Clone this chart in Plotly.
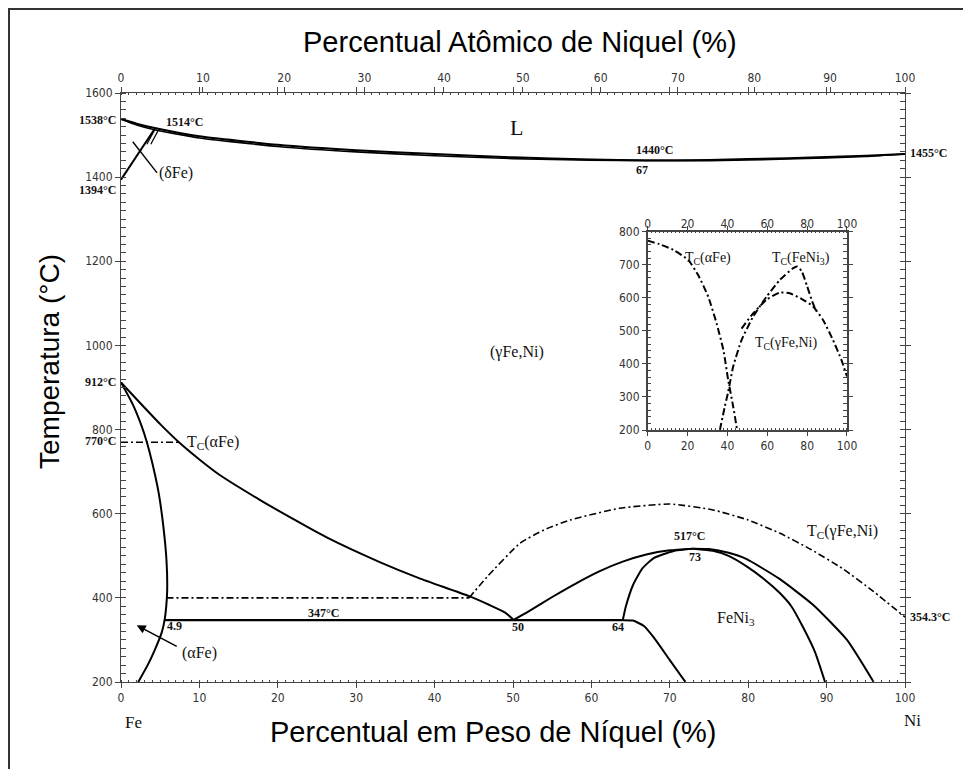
import plotly.graph_objects as go

# ---------------- main diagram data (wt.% Ni, °C) ----------------
liq_w = [0, 2, 4, 10, 20, 30, 40, 50, 60, 67, 75, 85, 95, 100]
liq_T = [1538, 1527, 1518, 1497, 1477, 1464, 1455, 1447, 1442, 1440, 1441, 1445, 1451, 1455]
sol_T = [1538, 1524, 1514, 1493, 1473, 1460, 1451, 1444, 1440, 1439, 1439, 1443, 1449, 1455]

gd_w = [0, 4.2]
gd_T = [1394, 1512]
pd1_w = [3.3, 4.3]
pd1_T = [1478, 1513]
pd2_w = [3.8, 4.8]
pd2_T = [1478, 1513]
dptr_w = [1.5, 4.6]
dptr_T = [1484, 1410]

a_w = [0, 1.5, 2.6, 3.3, 4.0, 4.8, 5.4, 5.8, 5.9, 5.85, 5.6, 5.2, 4.3, 3.4, 2.2]
a_T = [912, 860, 810, 770, 720, 650, 570, 490, 430, 400, 352, 318, 276, 240, 200]

g_w = [0, 2.5, 5, 7.5, 10, 12.6, 17.7, 22, 26.3, 33, 38, 44.4, 47, 49, 50]
g_T = [912, 862, 813, 768, 729, 692, 633, 587, 543, 485, 447, 404, 383, 365, 349]

eut_w = [5.6, 64]
eut_T = [347, 347]

b1_w = [50, 52, 55, 58, 61, 64, 67, 70, 73]
b1_T = [347, 368, 402, 434, 463, 486, 503, 513, 517]

b2_w = [64, 64.4, 65.3, 66.5, 68, 70.4, 73]
b2_T = [347, 380, 430, 470, 495, 511, 517]

b3_w = [64, 65.3, 66.7, 67.9, 70, 72]
b3_T = [347, 346, 333, 307, 252, 200]

b4_w = [73, 75.5, 77.5, 79.8, 82, 84, 85.5, 87, 88.5, 89.8]
b4_T = [517, 512, 500, 475, 445, 412, 380, 330, 272, 200]

b5_w = [73, 75, 77.5, 79.8, 84, 88.3, 92.6, 96]
b5_T = [517, 516, 507, 492, 445, 383, 300, 200]

tca_w = [0, 7.5]
tca_T = [770, 770]

h400_w = [5.8, 44.4]
h400_T = [400, 400]

tcg_w = [44.4, 46.7, 50.9, 54, 57.3, 63.6, 70, 75.5, 80, 84, 88, 92, 96, 100]
tcg_T = [400, 450, 530, 562, 585, 613, 623, 609, 585, 554, 515, 470, 415, 354.3]

# ---------------- inset data (at.% Ni, °C) ----------------
in_a_x = [0, 6, 12.9, 20.4, 25.4, 30.4, 34.6, 38, 40.4, 42.9, 44.9]
in_a_T = [773, 762, 745, 714, 668, 603, 522, 442, 351, 271, 200]

in_f_x = [36.2, 38.7, 40.4, 42.9, 47.1, 52.9, 59.6, 66.3, 73, 75, 77.3, 80, 82.5, 84.5]
in_f_T = [200, 271, 316, 392, 472, 543, 603, 654, 690, 695, 680, 635, 590, 560]

in_g_x = [47.1, 52.9, 59.6, 66.3, 71.3, 78, 83, 88, 93, 97.2, 100]
in_g_T = [507, 553, 594, 616, 614, 594, 574, 533, 472, 412, 362]

# tick labels
top_at_labels = [0, 10, 20, 30, 40, 50, 60, 70, 80, 90, 100]
main_x_ticks = [0, 10, 20, 30, 40, 50, 60, 70, 80, 90, 100]
main_y_ticks = [200, 400, 600, 800, 1000, 1200, 1400, 1600]
inset_x_ticks = [0, 20, 40, 60, 80, 100]
inset_y_ticks = [200, 300, 400, 500, 600, 700, 800]

# atomic -> weight percent positions for the top axis
M_NI, M_FE = 58.69, 55.845
top_pos = [100 * a * M_NI / (a * M_NI + (100 - a) * M_FE) for a in top_at_labels]

fig = go.Figure()

def solid(x, y, w=2.0, xa="x", ya="y"):
    fig.add_trace(go.Scatter(x=x, y=y, mode="lines", xaxis=xa, yaxis=ya,
                             line=dict(color="black", width=w, shape="spline", smoothing=0.5),
                             hoverinfo="skip", showlegend=False))

def dashdot(x, y, w=1.6, xa="x", ya="y"):
    fig.add_trace(go.Scatter(x=x, y=y, mode="lines", xaxis=xa, yaxis=ya,
                             line=dict(color="black", width=w, dash="7px,3px,2px,3px",
                                       shape="spline", smoothing=0.5),
                             hoverinfo="skip", showlegend=False))

solid(liq_w, liq_T, 2.0)
solid(liq_w, sol_T, 1.6)
solid(gd_w, gd_T, 2.0)
solid(pd1_w, pd1_T, 1.2)
solid(pd2_w, pd2_T, 1.2)
solid(dptr_w, dptr_T, 1.4)
solid(a_w, a_T, 2.0)
solid(g_w, g_T, 2.0)
solid(eut_w, eut_T, 2.4)
solid(b1_w, b1_T, 2.0)
solid(b2_w, b2_T, 2.0)
solid(b3_w, b3_T, 2.0)
solid(b4_w, b4_T, 2.0)
solid(b5_w, b5_T, 2.0)
dashdot(tca_w, tca_T)
dashdot(h400_w, h400_T)
dashdot(tcg_w, tcg_T)

dashdot(in_a_x, in_a_T, 2.0, "x3", "y3")
dashdot(in_f_x, in_f_T, 2.0, "x3", "y3")
dashdot(in_g_x, in_g_T, 2.0, "x3", "y3")

# dummy traces so the top axes are drawn
fig.add_trace(go.Scatter(x=[0, 100], y=[None, None], xaxis="x2", yaxis="y",
                         mode="lines", showlegend=False, hoverinfo="skip"))
fig.add_trace(go.Scatter(x=[0, 100], y=[None, None], xaxis="x4", yaxis="y3",
                         mode="lines", showlegend=False, hoverinfo="skip"))

TICKF = dict(family="Liberation Sans Narrow, DejaVu Sans Condensed, Liberation Sans, sans-serif",
             size=12, color="#333")
AXC = "#444"

fig.update_layout(
    width=963, height=761,
    margin=dict(l=113, r=66, t=85, b=87),
    paper_bgcolor="white", plot_bgcolor="white",
    showlegend=False,
    xaxis=dict(range=[0, 100], tickvals=main_x_ticks, ticks="outside", ticklen=5,
               tickcolor=AXC, showline=True, linecolor=AXC, linewidth=1, mirror="allticks",
               showgrid=False, zeroline=False, tickfont=TICKF,
               minor=dict(dtick=1, ticks="inside", ticklen=2, tickcolor=AXC)),
    xaxis2=dict(range=[0, 100], overlaying="x", side="top", anchor="y",
                tickvals=top_pos, ticktext=[str(v) for v in top_at_labels],
                ticks="outside", ticklen=5, tickcolor=AXC, showgrid=False,
                zeroline=False, tickfont=TICKF, showline=False),
    yaxis=dict(range=[200, 1600], tickvals=main_y_ticks, ticks="outside", ticklen=5,
               tickcolor=AXC, showline=True, linecolor=AXC, linewidth=1, mirror="allticks",
               showgrid=False, zeroline=False, tickfont=TICKF,
               minor=dict(dtick=20, ticks="inside", ticklen=2, tickcolor=AXC)),
    xaxis3=dict(domain=[0.6718, 0.926], anchor="y3", range=[0, 100], tickvals=inset_x_ticks,
                ticks="outside", ticklen=4, tickcolor=AXC, showline=True, linecolor=AXC,
                linewidth=1.5, mirror="allticks", showgrid=False, zeroline=False,
                tickfont=dict(family=TICKF["family"], size=12, color="#333"),
                minor=dict(dtick=2, ticks="inside", ticklen=2, tickcolor=AXC)),
    xaxis4=dict(range=[0, 100], overlaying="x3", side="top", anchor="y3",
                tickvals=inset_x_ticks, ticks="", showgrid=False, zeroline=False,
                tickfont=dict(family=TICKF["family"], size=12, color="#333")),
    yaxis3=dict(domain=[0.4278, 0.7645], anchor="x3", range=[200, 800],
                tickvals=inset_y_ticks, ticks="outside", ticklen=4, tickcolor=AXC,
                showline=True, linecolor=AXC, linewidth=1.5, mirror="allticks",
                showgrid=False, zeroline=False,
                tickfont=dict(family=TICKF["family"], size=12, color="#333"),
                minor=dict(dtick=20, ticks="inside", ticklen=2, tickcolor=AXC)),
)

SERIF = "Liberation Serif, DejaVu Serif, serif"
SANS = "Liberation Sans, Arial, sans-serif"
ann = []

def A(text, x, y, xref="x", yref="y", size=13, family=SERIF, xanchor="center",
      yanchor="middle", bold=False, color="#111", textangle=0):
    t = f"<b>{text}</b>" if bold else text
    ann.append(dict(text=t, x=x, y=y, xref=xref, yref=yref, showarrow=False,
                    font=dict(family=family, size=size, color=color),
                    xanchor=xanchor, yanchor=yanchor, textangle=textangle))

# axis titles (positions from screen pixels relative to plot area 121..905 x 93..682)
A("Percentual Atômico de Niquel (%)", (520 - 121) / 784, (682 - 42) / 589, xref="paper",
  yref="paper", size=29, family=SANS, color="black")
A("Percentual em Peso de Níquel (%)", (493 - 121) / 784, (682 - 732) / 589, xref="paper",
  yref="paper", size=29, family=SANS, color="black")
A("Temperatura (°C)", (49 - 121) / 784, (682 - 362) / 589, xref="paper", yref="paper",
  size=28, family=SANS, color="black", textangle=-90)
A("Fe", (133 - 121) / 784, (682 - 722) / 589, xref="paper", yref="paper", size=17)
A("Ni", (913 - 121) / 784, (682 - 720) / 589, xref="paper", yref="paper", size=17)

# left / right temperature labels
LBL = dict(size=12, bold=True)
A("1538°C", -0.004, 1536, xref="paper", xanchor="right", **LBL)
A("1394°C", -0.004, 1369, xref="paper", xanchor="right", **LBL)
A("912°C", -0.004, 913, xref="paper", xanchor="right", **LBL)
A("770°C", -0.004, 773, xref="paper", xanchor="right", **LBL)
A("1455°C", 1.004, 1458, xref="paper", xanchor="left", **LBL)
A("354.3°C", 1.004, 354, xref="paper", xanchor="left", **LBL)

# in-plot labels
A("1514°C", 5.5, 1530, xanchor="left", **LBL)
A("1440°C", 68, 1465, **LBL)
A("67", 66.5, 1418, **LBL)
A("L", 50.5, 1519, size=22)
A("(δFe)", 4.6, 1410, xanchor="left", size=16)
A("(γFe,Ni)", 50.5, 984, size=16)
A("T<sub>C</sub>(αFe)", 8.2, 770, xanchor="left", size=16)
A("T<sub>C</sub>(γFe,Ni)", 92, 558, size=16)
A("347°C", 25.8, 364, **LBL)
A("4.9", 6.8, 332, **LBL)
A("50", 50.6, 331, **LBL)
A("64", 63.4, 331, **LBL)
A("517°C", 72.5, 547, **LBL)
A("73", 73.2, 497, **LBL)
A("FeNi<sub>3</sub>", 78.4, 350, size=16)
A("(αFe)", 7.5, 269, xanchor="left", size=16)

# inset labels
A("T<sub>C</sub>(αFe)", 30.4, 719, xref="x3", yref="y3", size=14)
A("T<sub>C</sub>(FeNi<sub>3</sub>)", 77.1, 719, xref="x3", yref="y3", size=14)
A("T<sub>C</sub>(γFe,Ni)", 69.6, 462, xref="x3", yref="y3", size=14)

# arrow to (αFe)
ann.append(dict(x=2.0, y=335, ax=7.3, ay=283, xref="x", yref="y", axref="x", ayref="y",
                showarrow=True, arrowhead=2, arrowsize=1.2, arrowwidth=1.5,
                arrowcolor="black", text=""))

fig.update_layout(annotations=ann)

# outer frame (only its top and left edges fall inside the picture)
fig.add_shape(type="rect", xref="paper", yref="paper",
              x0=(9 - 121) / 784, x1=(990 - 121) / 784,
              y0=(682 - 790) / 589, y1=(682 - 9) / 589,
              line=dict(color="#333", width=2), fillcolor="rgba(0,0,0,0)")

fig.write_html("out.html")
